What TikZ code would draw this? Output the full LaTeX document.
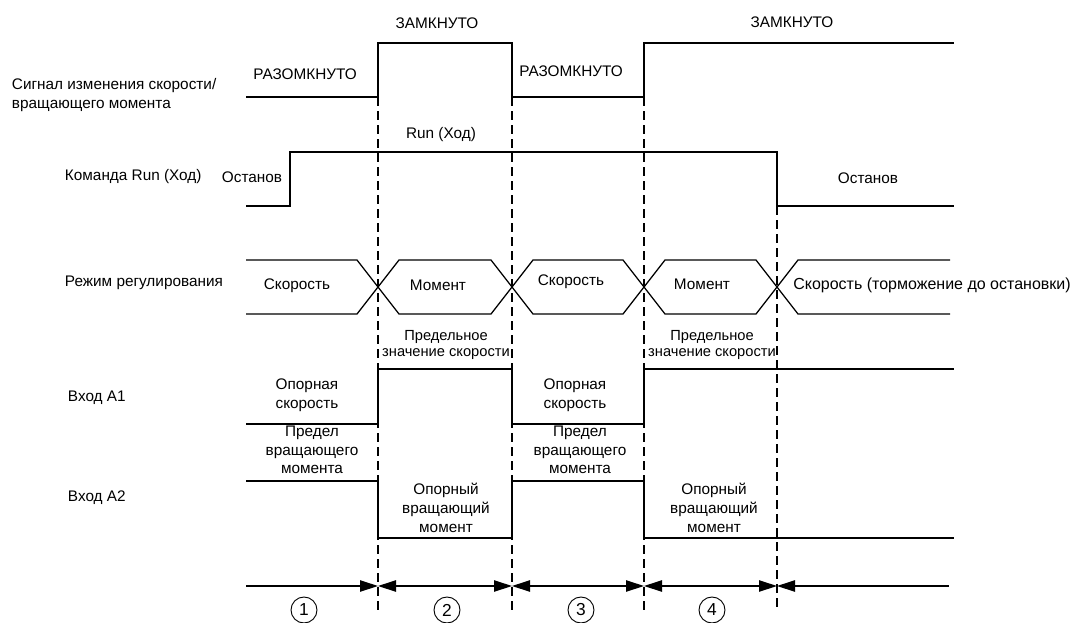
\documentclass[tikz,border=0pt]{standalone}
\usepackage{fontspec}
\setmainfont{Liberation Sans}
\usetikzlibrary{arrows.meta}
\begin{document}
\begin{tikzpicture}[x=0.75pt,y=-0.75pt,line width=0.95pt,>={Triangle[length=13.5pt,width=8.5pt]},every node/.style={font=\fontsize{11.5}{14}\selectfont,inner sep=1pt,align=center},lbl/.style={anchor=west,align=left},small/.style={font=\fontsize{11}{12}\selectfont},num/.style={circle,draw,line width=0.7pt,minimum size=19.5pt,inner sep=0pt,font=\fontsize{13}{14}\selectfont}]
\useasboundingbox (0,0) rectangle (1072,622);
\node[lbl] (lsig) at (10,95) {Сигнал изменения скорости/\\вращающего момента};
\node[lbl] (lrun) at (63,177) {Команда Run (Ход)};
\node[lbl] (lmode) at (63,283) {Режим регулирования};
\node[lbl] (la1) at (66,398) {Вход A1};
\node[lbl] (la2) at (66,498) {Вход A2};
\foreach \x/\y in {378/97,512/97,644/97,777/206}{\draw[dash pattern=on 7pt off 3.5pt,line width=0.8pt] (\x,\y)--(\x,612);}
\draw (246,97)--(378,97)--(378,43)--(512,43)--(512,97)--(644,97)--(644,43)--(954,43);
\node (z1) at (437,23) {ЗАМКНУТО};\node (z2) at (792,22) {ЗАМКНУТО};
\node (r1) at (305,74) {РАЗОМКНУТО};\node (r2) at (571,71) {РАЗОМКНУТО};
\draw (246,206)--(290,206)--(290,152)--(777,152)--(777,206)--(954,206);
\node (hod) at (441,135) {Run (Ход)};
\node (st1) at (252,177) {Останов};\node (st2) at (868,178) {Останов};
\draw (246,260)--(357,260)--(399,314)--(491,314)--(533,260)--(623,260)--(665,314)--(756,314)--(798,260)--(950,260);
\draw (246,314)--(357,314)--(399,260)--(491,260)--(533,314)--(623,314)--(665,260)--(756,260)--(798,314)--(950,314);
\node (m1) at (297,286) {Скорость};\node (m2) at (438,285) {Момент};\node (m3) at (571,282) {Скорость};\node (m4) at (702,284) {Момент};
\node[font=\fontsize{12}{14}\selectfont] (m5) at (932,285) {Скорость (торможение до остановки)};
\foreach \i/\x in {1/446,2/712}{\node[small] (lim\i) at (\x,345) {Предельное\\значение скорости};}
\draw (246,424)--(378,424)--(378,369)--(512,369)--(512,424)--(644,424)--(644,369)--(954,369);
\draw (246,481)--(378,481)--(378,538)--(512,538)--(512,481)--(644,481)--(644,538)--(954,538);
\foreach \i/\x in {1/307,2/575}{\node (ref\i) at (\x,395) {Опорная\\скорость};}
\foreach \i/\x in {1/312,2/580}{\node (tl\i) at (\x,450) {Предел\\вращающего\\момента};}
\foreach \i/\x in {1/446,2/714}{\node (tr\i) at (\x,508) {Опорный\\вращающий\\момент};}
\draw[->] (246,586)--(378,586);
\foreach \a/\b in {378/512,512/644,644/777}{\draw[<->] (\a,586)--(\b,586);}
\draw[<-] (777,586)--(949,586);
\foreach \i/\x in {1/304,2/447,3/581,4/712}{\node[num] (c\i) at (\x,610) {\i};}
\end{tikzpicture}
\end{document}
